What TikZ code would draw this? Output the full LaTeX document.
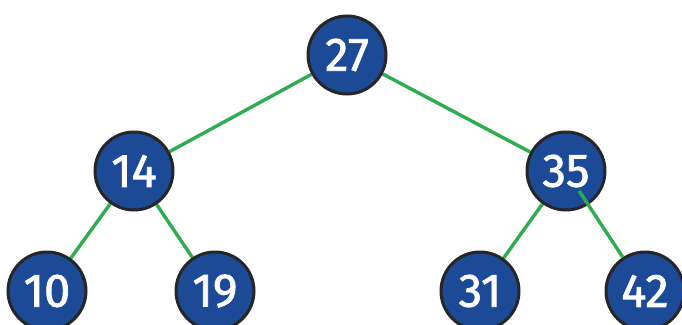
\documentclass[tikz,border=0pt]{standalone}
\usepackage{fontspec}
\setmainfont{Fira Sans}
\newfontfamily\nodefont{Fira Sans}[FakeBold=1.6]
\usetikzlibrary{backgrounds}
\definecolor{nodeblue}{RGB}{28,74,150}
\definecolor{edgegreen}{RGB}{45,172,80}
\begin{document}
\begin{tikzpicture}[x=1pt,y=-1pt,
  treenode/.style={circle, draw=black!85, line width=3pt, fill=nodeblue,
    minimum size=78pt, inner sep=0pt, text=white, font=\nodefont\fontsize{47}{47}\selectfont},
  edge/.style={draw=edgegreen, line width=3.4pt}]
\useasboundingbox (0,0) rectangle (682,324);
\node[treenode] (n27) at (347,55) {27};
\node[treenode] (n14) at (134,171) {14};
\node[treenode] (n35) at (566,171) {35};
\node[treenode] (n10) at (47,291) {10};
\node[treenode] (n19) at (215,291) {19};
\node[treenode] (n31) at (480,291) {31};
\node[treenode] (n42) at (645,291) {42};
\begin{scope}[on background layer]
\draw[edge] (n27) -- (n14);
\draw[edge] (n27) -- (n35);
\draw[edge] (n14) -- (n10);
\draw[edge] (n14) -- (n19);
\draw[edge] (n35) -- (n31);
\end{scope}
\draw[edge, shorten <=24pt] (n35.center) -- (n42);
\end{tikzpicture}
\end{document}
